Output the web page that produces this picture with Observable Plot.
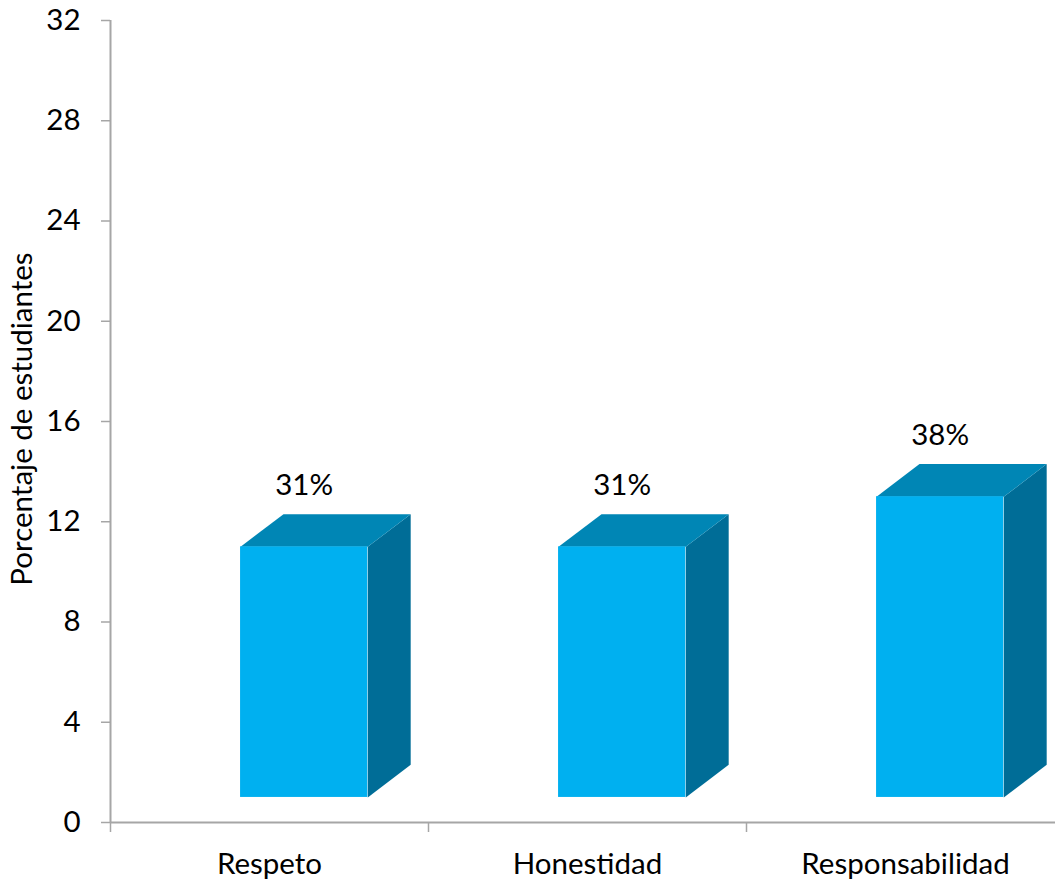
<!DOCTYPE html>
<html>
<head>
<meta charset="utf-8">
<script src="https://cdn.jsdelivr.net/npm/d3@7"></script>
<script src="https://cdn.jsdelivr.net/npm/@observablehq/plot@0.6"></script>
<style>
  html, body { margin: 0; padding: 0; background: #fff; overflow: hidden; }
  #chart svg { display: block; font-family: Lato, "Open Sans", sans-serif; }
</style>
</head>
<body>
<div id="chart"></div>
<script>
// ---- Data ----
const categories = ["Respeto", "Honestidad", "Responsabilidad"];
const values = [11, 11, 13];          // bar heights (front face top)
const valueLabels = ["31%", "31%", "38%"];
const yTicks = [0, 4, 8, 12, 16, 20, 24, 28, 32];
const yTitle = "Porcentaje de estudiantes";

// ---- Style / geometry constants ----
const FONT = 29.5;
const base = 1.0;        // front-face floor level
const xOff = 0.409;      // front face left offset within category slot
const barW = 0.40;       // front face width (slot units)
const depthX = 0.135;    // 3D depth, x (slot units)
const depthY = 1.3;      // 3D depth, y (value units)
const cFront = "#00B0F0", cTop = "#0086B5", cSide = "#006D97", cAxis = "#A6A6A6";

const bars = categories.map((c, i) => ({
  cat: c, i, v: values[i], label: valueLabels[i],
  x1: i + xOff, x2: i + xOff + barW
}));

const topPts = [], sidePts = [];
for (const b of bars) {
  const t = [[b.x1, b.v], [b.x2, b.v], [b.x2 + depthX, b.v + depthY], [b.x1 + depthX, b.v + depthY], [b.x1, b.v]];
  t.forEach(([x, y]) => topPts.push({ x, y, k: b.cat }));
  const s = [[b.x2, base], [b.x2, b.v], [b.x2 + depthX, b.v + depthY], [b.x2 + depthX, base + depthY], [b.x2, base]];
  s.forEach(([x, y]) => sidePts.push({ x, y, k: b.cat }));
}

const chart = Plot.plot({
  width: 1055,
  height: 882,
  marginLeft: 110,
  marginTop: 20,
  marginBottom: 60,
  marginRight: 0,
  style: { fontSize: FONT + "px", fontFamily: "Lato, 'Open Sans', sans-serif", color: "#000", background: "#fff" },
  x: { type: "linear", domain: [0, 3], range: [110, 1064] },
  y: { domain: [0, 32], range: [822, 20] },
  marks: [
    // axis lines
    Plot.ruleY([0], { x1: 0, x2: 3, stroke: cAxis, strokeWidth: 2 }),
    Plot.ruleX([0], { y1: 0, y2: 32, stroke: cAxis, strokeWidth: 2 }),
    // y axis ticks + labels
    Plot.axisY({ ticks: yTicks, tickSize: 9, tickPadding: 21, stroke: cAxis, strokeWidth: 1.5, strokeOpacity: 1, fontSize: FONT, fill: "#000", label: null, tickFormat: d => String(d) }),
    // x axis ticks (slot boundaries)
    Plot.axisX({ ticks: [0, 1, 2, 3], tickSize: 10, stroke: cAxis, strokeWidth: 1.5, strokeOpacity: 1, tickFormat: () => "", label: null }),
    // x category labels
    Plot.text(bars, { x: d => d.i + 0.5, y: 0, text: "cat", dy: 42, fontSize: FONT, fill: "#000" }),
    // y title
    Plot.text([yTitle], { frameAnchor: "left", textAnchor: "middle", text: d => d, rotate: -90, dx: -88, y: 16.1, fontSize: FONT, fill: "#000" }),
    // 3D bars
    Plot.line(sidePts, { x: "x", y: "y", z: "k", fill: cSide, stroke: "none" }),
    Plot.line(topPts, { x: "x", y: "y", z: "k", fill: cTop, stroke: "none" }),
    Plot.rect(bars, { x1: "x1", x2: "x2", y1: base, y2: "v", fill: cFront }),
    // value labels
    Plot.text(bars, { x: d => (d.x1 + d.x2) / 2, y: d => d.v + 2.45, text: "label", fontSize: FONT, fill: "#000" })
  ]
});
document.getElementById("chart").appendChild(chart);
</script>
</body>
</html>
